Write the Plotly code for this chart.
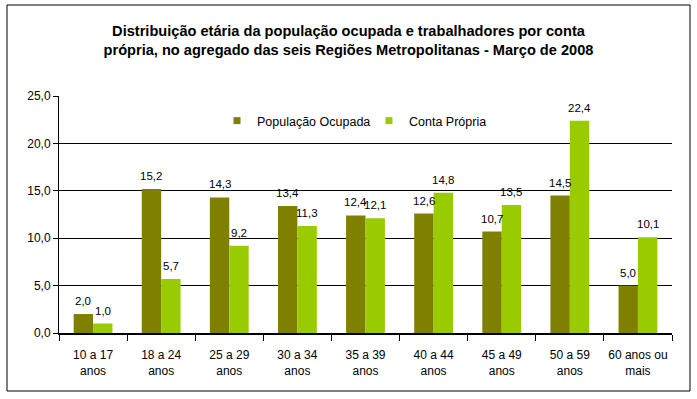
import plotly.graph_objects as go

categories = ["10 a 17<br>anos", "18 a 24<br>anos", "25 a 29<br>anos", "30 a 34<br>anos",
              "35 a 39<br>anos", "40 a 44<br>anos", "45 a 49<br>anos", "50 a 59<br>anos",
              "60 anos ou<br>mais"]
pop_ocupada = [2.0, 15.2, 14.3, 13.4, 12.4, 12.6, 10.7, 14.5, 5.0]
conta_propria = [1.0, 5.7, 9.2, 11.3, 12.1, 14.8, 13.5, 22.4, 10.1]
y_ticks = [0, 5, 10, 15, 20, 25]

FONT = "Liberation Sans, Arial, sans-serif"
COLORS = ["#808000", "#99CC00"]
NAMES = ["População Ocupada", "Conta Própria"]
SERIES = [pop_ocupada, conta_propria]

L, R, T, B = 59, 25, 96, 66
W, H = 697, 399
pw, ph = W - L - R, H - T - B
BARGAP = 0.43
cat_w = pw / len(categories)
bar_w = cat_w * (1 - BARGAP) / 2

def px_x(x):
    return (x - L) / pw

def px_y(y):
    return (H - B - y) / ph

fig = go.Figure()
for name, vals, col in zip(NAMES, SERIES, COLORS):
    fig.add_trace(go.Bar(x=categories, y=vals, name=name, showlegend=False,
                         marker=dict(color=col, line=dict(width=0))))
# legend entries (small squares like the original)
for name, col in zip(NAMES, COLORS):
    fig.add_trace(go.Scatter(x=[None], y=[None], mode="markers", name=name,
                             marker=dict(symbol="square", size=7, color=col)))

annotations = []
for j, vals in enumerate(SERIES):
    shift = (j - 0.5) * bar_w
    for cat, v in zip(categories, vals):
        annotations.append(dict(x=cat, y=v, xref="x", yref="y", text=f"{v:.1f}".replace(".", ","),
                                showarrow=False, xshift=shift, yshift=13, yanchor="middle",
                                font=dict(size=11.5, family=FONT, color="black")))

fig.update_layout(
    width=W, height=H,
    margin=dict(l=L, r=R, t=T, b=B, autoexpand=False),
    paper_bgcolor="white", plot_bgcolor="white",
    separators=",.",
    font=dict(family=FONT, size=12, color="black"),
    title=dict(text="Distribuição etária da população ocupada e trabalhadores por conta<br>própria, no agregado das seis Regiões Metropolitanas - Março de 2008",
               x=0.5, xanchor="center", y=1 - 36 / H, yanchor="middle",
               font=dict(family=FONT, size=14.6, color="black", weight="bold")),
    barmode="group", bargap=BARGAP, bargroupgap=0,
    showlegend=True,
    legend=dict(orientation="h", x=px_x(217), y=px_y(121), xanchor="left", yanchor="middle",
                font=dict(size=12.5, family=FONT), bgcolor="rgba(0,0,0,0)",
                itemwidth=30, tracegroupgap=0, entrywidth=107, entrywidthmode="pixels"),
    xaxis=dict(showline=True, linecolor="black", linewidth=2, automargin=False,
               tickangle=0, ticklabelstandoff=10,
               ticks="outside", tickson="boundaries", ticklen=6, tickcolor="black",
               tickfont=dict(size=12, family=FONT), fixedrange=True),
    yaxis=dict(range=[0, 25], tickvals=y_ticks, tickformat=".1f", automargin=False,
               showgrid=True, gridcolor="black", gridwidth=1,
               showline=True, linecolor="black", linewidth=1,
               ticks="outside", ticklen=5, tickcolor="black",
               zeroline=False, tickfont=dict(size=12, family=FONT), fixedrange=True),
    annotations=annotations,
    shapes=[dict(type="rect", xref="paper", yref="paper",
                 x0=px_x(7), x1=px_x(690), y0=px_y(391), y1=px_y(5),
                 line=dict(color="black", width=1), fillcolor="rgba(0,0,0,0)")],
)

fig.write_html("out.html", config={"displayModeBar": False},
               post_script="document.body.style.margin='0';")
